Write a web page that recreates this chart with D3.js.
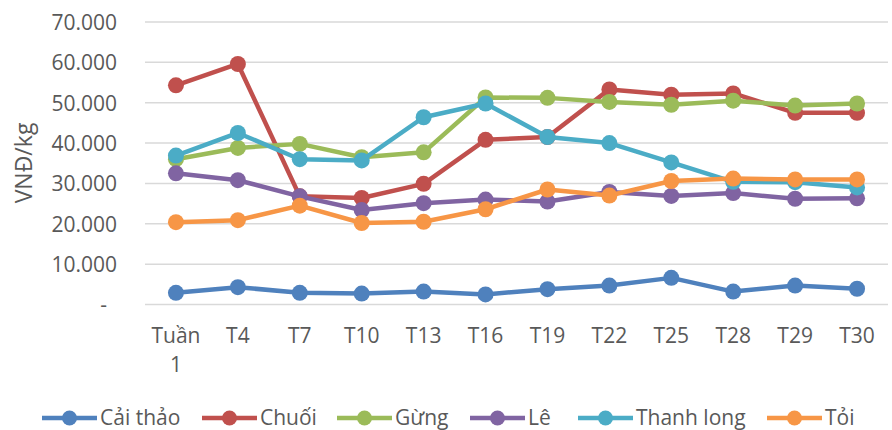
<!DOCTYPE html>
<html><head><meta charset="utf-8">
<script src="https://cdn.jsdelivr.net/npm/d3@7"></script>
<style>body{margin:0;background:#fff}svg{display:block}text{font-family:"Open Sans",sans-serif;fill:#595959}</style>
</head><body><svg id="c" width="892" height="430"></svg>
<script>
const categories = ["Tuần 1","T4","T7","T10","T13","T16","T19","T22","T25","T28","T29","T30"];
const seriesNames = ["Cải thảo","Chuối","Gừng","Lê","Thanh long","Tỏi"];
const caiThao   = [2900,4300,2900,2700,3200,2500,3800,4700,6600,3200,4700,3900];
const chuoi     = [54300,59600,26800,26400,29900,40800,41500,53300,52000,52300,47500,47500];
const gung      = [36000,38800,39800,36500,37700,51300,51200,50200,49500,50500,49300,49800];
const le        = [32500,30800,26800,23400,25100,26000,25500,27900,26900,27600,26200,26300];
const thanhLong = [36900,42500,36000,35700,46400,49800,41500,40000,35200,30400,30300,29000];
const toi       = [20400,20900,24500,20200,20500,23600,28500,27000,30600,31200,31000,31000];
const yTicks = [0,10000,20000,30000,40000,50000,60000,70000];
const colors = ["#4F81BD","#C0504D","#9BBB59","#8064A2","#4BACC6","#F79646"];
const allSeries = [caiThao,chuoi,gung,le,thanhLong,toi];

const FS = 21;
const svg = d3.select("#c");
const x = d3.scaleBand().domain(categories).range([145,888]);
const y = d3.scaleLinear().domain([0,70000]).range([304.5,22]);
const fmt = v => v===0 ? "-" : d3.format(",")(v).replace(/,/g,".");

// grid
svg.append("g").selectAll("line").data(yTicks).join("line")
  .attr("x1",145).attr("x2",888).attr("y1",d=>y(d)).attr("y2",d=>y(d))
  .attr("stroke","#D9D9D9").attr("stroke-width",1.5);

// y axis labels
const ya = svg.append("g").attr("transform","translate(117,0)")
  .call(d3.axisLeft(y).tickValues(yTicks).tickSize(0).tickPadding(0).tickFormat(fmt));
ya.select(".domain").remove();
ya.selectAll("text").attr("font-size",FS).attr("font-family","Open Sans").attr("fill","#595959")
  .attr("dy","0.35em").attr("dx",d=>d===0?-10:0);

// x axis labels
const xa = svg.append("g").attr("transform","translate(0,304.5)")
  .call(d3.axisBottom(x).tickSize(0).tickPadding(0));
xa.select(".domain").remove();
xa.selectAll("text").attr("font-size",FS).attr("font-family","Open Sans").attr("fill","#595959")
  .attr("y",38).attr("dy",0)
  .each(function(d){
    const parts = d.split(" ");
    const t = d3.select(this).text(null);
    parts.forEach((p,i)=>t.append("tspan").attr("x",0).attr("dy",i===0?0:29).text(p));
  });

// y title
svg.append("text").attr("transform","translate(32,163) rotate(-90)")
  .attr("text-anchor","middle").attr("font-size",23).text("VNĐ/kg");

// series
const line = d3.line().x((d,i)=>x(categories[i])+x.bandwidth()/2).y(d=>y(d));
allSeries.forEach((s,k)=>{
  const g = svg.append("g");
  g.append("path").datum(s).attr("d",line).attr("fill","none")
    .attr("stroke",colors[k]).attr("stroke-width",4.5).attr("stroke-linejoin","round");
  g.selectAll("circle").data(s).join("circle")
    .attr("cx",(d,i)=>x(categories[i])+x.bandwidth()/2).attr("cy",d=>y(d)).attr("r",8)
    .attr("fill",colors[k]);
});

// legend
const legX = [42,202,337,470,578,767];
const lg = svg.append("g");
seriesNames.forEach((n,k)=>{
  const g = lg.append("g").attr("transform",`translate(${legX[k]},418)`);
  g.append("line").attr("x1",0).attr("x2",55).attr("stroke",colors[k]).attr("stroke-width",4.5);
  g.append("circle").attr("cx",27.5).attr("r",7.5).attr("fill",colors[k]);
  g.append("text").attr("x",58).attr("dy","0.35em").attr("font-size",FS).text(n);
});
</script></body></html>
